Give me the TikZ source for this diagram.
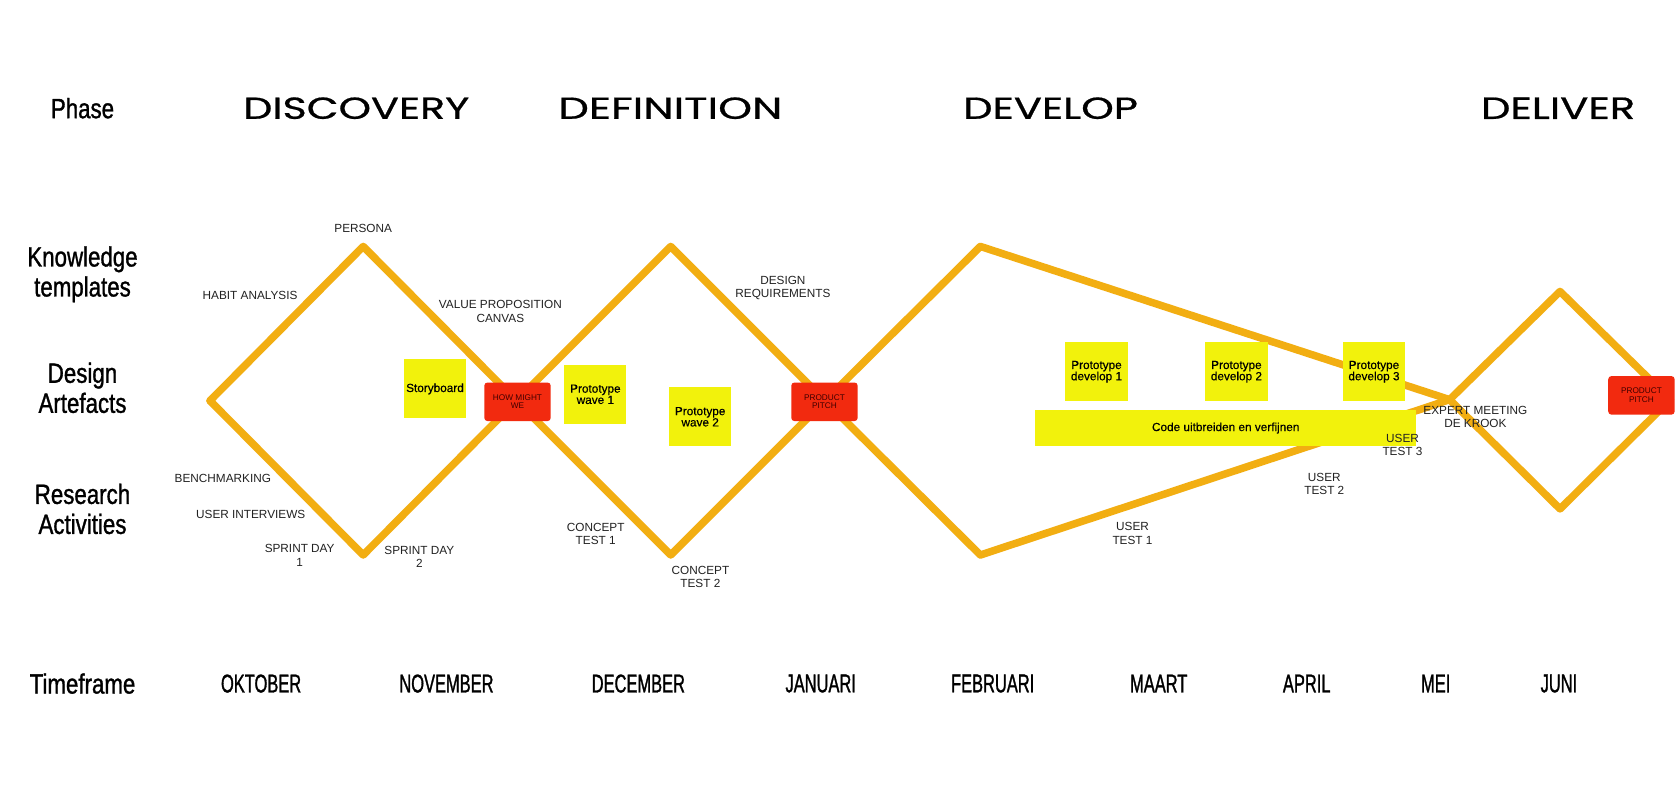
\documentclass[tikz,border=0pt]{standalone}
\usepackage{fontspec}
\usepackage{graphicx}
\setmainfont{Liberation Sans}
\newfontfamily\rowfont[FakeStretch=0.80,FakeBold=1.1]{Liberation Sans}
\newfontfamily\monthfont[FakeStretch=0.64,FakeBold=1.1]{Liberation Sans}
\newfontfamily\stickyfont[FakeBold=0.4]{Liberation Sans}
\newfontfamily\phasefont[FakeBold=0.6]{Poppins}

\definecolor{stageline}{HTML}{F2AE12}
\definecolor{stickyyellow}{HTML}{F2F20C}
\definecolor{pitchred}{HTML}{F22A0F}
\definecolor{labelgrey}{HTML}{222222}

% phase headings are stretched to a fixed width and cap height
\newcommand{\stagetitle}[2]{\resizebox{#1}{20pt}{\phasefont #2}}

\tikzset{
  stage/.style={line width=7pt, draw=stageline, line join=round, line cap=round},
  sticky/.style={fill=stickyyellow, minimum width=58pt, minimum height=55pt,
    inner sep=0pt, align=center, font=\stickyfont\fontsize{11}{10.5}\selectfont},
  pitchbox/.style={fill=pitchred, rounded corners=3pt, minimum width=62pt,
    minimum height=36pt, inner sep=0pt, align=center, text=black!75!red,
    font=\fontsize{7.7}{8}\selectfont},
  note/.style={align=center, inner sep=0pt, text=labelgrey,
    font=\fontsize{11}{12.5}\selectfont},
  rowlabel/.style={align=center, inner sep=0pt, font=\rowfont\fontsize{26}{28}\selectfont},
  month/.style={inner sep=0pt, font=\monthfont\fontsize{24}{24}\selectfont},
  phasetitle/.style={inner sep=0pt},
}

\begin{document}
\begin{tikzpicture}[x=1pt,y=-1pt]
\useasboundingbox (0,0) rectangle (1568,747);
\fill[white] (0,0) rectangle (1568,747);

% row headings
\node[rowlabel] (lphase) at (77,101) {Phase};
\node[rowlabel] (lknow) at (77,256) {Knowledge\\templates};
\node[rowlabel] (ldesign) at (77,362) {Design\\Artefacts};
\node[rowlabel] (lresearch) at (77,475) {Research\\Activities};
\node[rowlabel] (ltime) at (77,638) {Timeframe};

% phase headings
\node[phasetitle] (pdisc) at (332.5,101) {\stagetitle{211pt}{DISCOVERY}};
\node[phasetitle] (pdef) at (625.7,101) {\stagetitle{209pt}{DEFINITION}};
\node[phasetitle] (pdev) at (980.5,101) {\stagetitle{163pt}{DEVELOP}};
\node[phasetitle] (pdel) at (1454.2,101) {\stagetitle{144pt}{DELIVER}};

% months
\node[month] (moct) at (243.7,638) {OKTOBER};
\node[month] (mnov) at (416.7,638) {NOVEMBER};
\node[month] (mdec) at (595.8,638) {DECEMBER};
\node[month] (mjan) at (766,638) {JANUARI};
\node[month] (mfeb) at (926.5,638) {FEBRUARI};
\node[month] (mmar) at (1081.5,638) {MAART};
\node[month] (mapr) at (1219.6,638) {APRIL};
\node[month] (mmay) at (1340,638) {MEI};
\node[month] (mjun) at (1455,638) {JUNI};

% corners of the diamonds
\coordinate (d1l) at (196,374);
\coordinate (d1t) at (339,230);
\coordinate (d1b) at (339,518);
\coordinate (x1) at (482,374);
\coordinate (d2t) at (626,230);
\coordinate (d2b) at (626,518);
\coordinate (x2) at (770,374);
\coordinate (d3t) at (915,230);
\coordinate (d3b) at (915,518);
\coordinate (x3) at (1353,373);
\coordinate (d4t) at (1456,272);
\coordinate (d4b) at (1456,475);
\coordinate (d4r) at (1559,373);

\draw[stage] (d1l) -- (d1t) -- (x1) -- (d2b) -- (x2) -- (d3b) -- (x3) -- (d4t) -- (d4r);
\draw[stage] (d1l) -- (d1b) -- (x1) -- (d2t) -- (x2) -- (d3t) -- (x3) -- (d4b) -- (d4r);

% artefacts
\node[sticky] (story) at (406,363) {Storyboard};
\node[pitchbox] (hmw) at (483,375) {HOW MIGHT\\WE};
\node[sticky] (wave1) at (555.7,368) {Prototype\\wave 1};
\node[sticky] (wave2) at (653.5,389) {Prototype\\wave 2};
\node[pitchbox] (pitch1) at (769.5,375) {PRODUCT\\PITCH};
\node[sticky] (dev1) at (1023.4,347) {Prototype\\develop 1};
\node[sticky] (dev2) at (1154,347) {Prototype\\develop 2};
\node[sticky] (dev3) at (1282.4,347) {Prototype\\develop 3};
\node[sticky, minimum width=355.7pt, minimum height=33pt] (code) at (1144,399.5) {Code uitbreiden en verfijnen};
\node[pitchbox] (pitch2) at (1532,369) {PRODUCT\\PITCH};

% knowledge templates and research activities
\node[note] (persona) at (339,213) {PERSONA};
\node[note] (habit) at (233.4,276) {HABIT ANALYSIS};
\node[note] (vpc) at (467,290.5) {VALUE PROPOSITION\\CANVAS};
\node[note] (dreq) at (730.7,269) {DESIGN\\REQUIREMENTS};
\node[note] (bench) at (208,447) {BENCHMARKING};
\node[note] (uint) at (234,480) {USER INTERVIEWS};
\node[note] (sd1) at (279.7,518.5) {SPRINT DAY\\1};
\node[note] (sd2) at (391.4,519.5) {SPRINT DAY\\2};
\node[note] (ct1) at (556,498.5) {CONCEPT\\TEST 1};
\node[note] (ct2) at (653.7,538.5) {CONCEPT\\TEST 2};
\node[note] (ut1) at (1057,498) {USER\\TEST 1};
\node[note] (ut2) at (1236,451.5) {USER\\TEST 2};
\node[note] (ut3) at (1309,415.5) {USER\\TEST 3};
\node[note] (expert) at (1377,389) {EXPERT MEETING\\DE KROOK};
\end{tikzpicture}
\end{document}
